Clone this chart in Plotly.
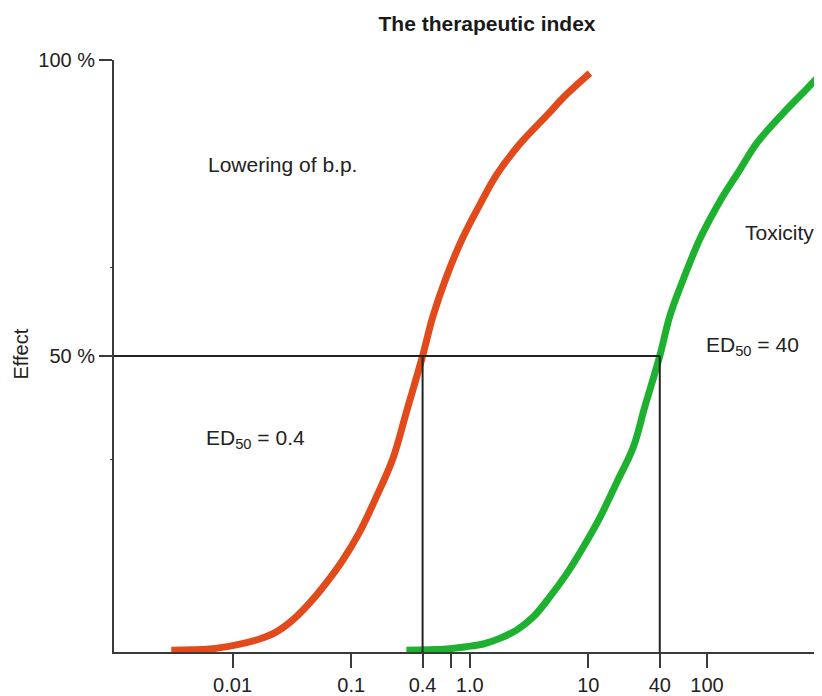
import plotly.graph_objects as go

# Dose (log scale) vs effect (%)
bp_dose = [0.00304, 0.0064, 0.01075, 0.0169, 0.0234, 0.0321, 0.0447, 0.0618, 0.0848,
           0.118, 0.163, 0.224, 0.292, 0.4, 0.487, 0.636, 0.878, 1.21, 1.68, 2.64,
           4.44, 6.55, 10.3]
bp_effect = [0.3, 0.5, 1.2, 2.2, 3.4, 5.4, 8.3, 11.7, 15.5, 20.3, 26.2, 32.6, 40.5,
             50.0, 56.6, 63.4, 70.1, 75.5, 80.6, 85.8, 90.6, 94.2, 97.8]

tox_dose = [0.292, 0.595, 0.938, 1.30, 1.79, 2.48, 3.42, 4.73, 6.55, 9.04, 12.5, 17.3,
            23.9, 30.0, 40.0, 48.7, 62.7, 87.3, 129, 190, 264, 438, 671, 934, 1200]
tox_effect = [0.3, 0.45, 0.9, 1.35, 2.3, 3.7, 5.9, 9.3, 13.2, 17.7, 22.7, 28.6, 34.6,
              41.5, 50.0, 56.8, 62.8, 69.8, 76.2, 81.5, 86.0, 91.0, 94.8, 97.7, 99.0]

ed50 = [0.4, 40]
x_tickvals = [0.01, 0.1, 0.4, 1.0, 10, 40, 100]
x_ticktext = ["0.01", "0.1", "0.4", "1.0", "10", "40", "100"]
x_minor = [0.7]
y_tickvals = [50, 100]
y_ticktext = ["50 %", "100 %"]
y_minor = [32.5, 65]

RED = "#E2491B"
GREEN = "#1DB12F"
LINE = "#222222"
AX = "#3a3a3a"
FONT = "Liberation Sans, Arial, Helvetica, sans-serif"

fig = go.Figure()
fig.add_trace(go.Scatter(x=bp_dose, y=bp_effect, mode="lines",
                         line=dict(color=RED, width=7, shape="spline", smoothing=1.0),
                         showlegend=False, hoverinfo="skip"))
fig.add_trace(go.Scatter(x=tox_dose, y=tox_effect, mode="lines",
                         line=dict(color=GREEN, width=7, shape="spline", smoothing=1.0),
                         showlegend=False, hoverinfo="skip"))
# reference lines at 50 %
fig.add_trace(go.Scatter(x=[0.001, ed50[1]], y=[50, 50], mode="lines",
                         line=dict(color=LINE, width=2), showlegend=False, hoverinfo="skip"))
for d in ed50:
    fig.add_trace(go.Scatter(x=[d, d], y=[0, 50], mode="lines",
                             line=dict(color=LINE, width=2), showlegend=False, hoverinfo="skip"))

fig.update_xaxes(type="log", range=[-3.0, 2.97], showgrid=False, zeroline=False,
                 showline=True, linecolor=AX, linewidth=2, automargin=False,
                 ticks="outside", ticklen=14, tickwidth=2, tickcolor=AX,
                 tickvals=x_tickvals, ticktext=x_ticktext,
                 tickfont=dict(family=FONT, size=20, color="#222"),
                 ticklabelstandoff=0,
                 minor=dict(tickvals=x_minor, ticks="outside", ticklen=14,
                            tickwidth=2, tickcolor=AX, showgrid=False))
fig.update_yaxes(range=[0, 100], showgrid=False, zeroline=False,
                 showline=True, linecolor=AX, linewidth=2, automargin=False,
                 ticks="outside", ticklen=13, tickwidth=2, tickcolor=AX,
                 tickvals=y_tickvals, ticktext=y_ticktext,
                 tickfont=dict(family=FONT, size=20, color="#222"),
                 minor=dict(tickvals=y_minor, ticks="outside", ticklen=2,
                            tickwidth=1, tickcolor=AX, showgrid=False))

ann_font = dict(family=FONT, size=21, color="#222")
annotations = [
    dict(text="Lowering of b.p.", x=0.130, y=0.823, xanchor="left", yanchor="middle"),
    dict(text="ED<sub>50</sub> = 0.4", x=0.127, y=0.36, xanchor="left", yanchor="middle"),
    dict(text="Toxicity", x=0.889, y=0.709, xanchor="left", yanchor="middle"),
    dict(text="ED<sub>50</sub> = 40", x=0.833, y=0.517, xanchor="left", yanchor="middle"),
]
for a in annotations:
    fig.add_annotation(xref="paper", yref="paper", showarrow=False, font=ann_font, **a)
fig.add_annotation(text="Effect", xref="paper", yref="paper", x=-0.131, y=0.503,
                   textangle=-90, showarrow=False, xanchor="center", yanchor="middle",
                   font=dict(family=FONT, size=20, color="#222"))

# the page body adds an 8 px margin, so the figure is sized to fit the window
fig.update_layout(
    width=814, height=688,
    margin=dict(l=106, r=0, t=52, b=44, autoexpand=False),
    paper_bgcolor="white", plot_bgcolor="white",
    title=dict(text="<b>The therapeutic index</b>", x=0.5885, xanchor="center",
               y=0.9767, yanchor="middle", font=dict(family=FONT, size=21, color="#1a1a1a")),
)

fig.write_html("out.html")
